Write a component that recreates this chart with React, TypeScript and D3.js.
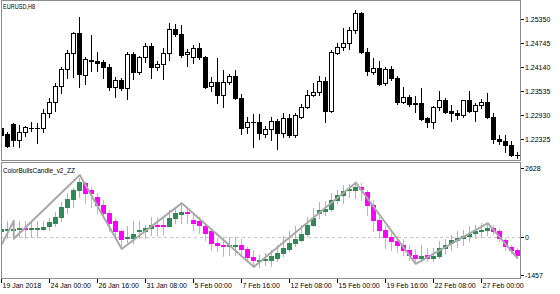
import React from "react";
import * as d3 from "d3";

const priceOpen = [1.22609,1.22458,1.22709,1.22307,1.22508,1.22609,1.22620,1.22609,1.22986,1.23263,1.23665,1.24093,1.24495,1.24998,1.23942,1.24319,1.24294,1.24269,1.24143,1.23640,1.23816,1.23615,1.24470,1.24017,1.24395,1.24671,1.24143,1.24219,1.24495,1.25099,1.24973,1.24470,1.24395,1.24621,1.24395,1.23665,1.23766,1.23439,1.23766,1.23917,1.23363,1.22634,1.22760,1.22760,1.22458,1.22584,1.22785,1.22483,1.22860,1.22433,1.22886,1.23137,1.23439,1.23514,1.23791,1.23036,1.24495,1.24646,1.24747,1.25073,1.25501,1.24520,1.24017,1.24118,1.23741,1.24093,1.23867,1.23263,1.23388,1.23238,1.23238,1.22860,1.22760,1.23137,1.23313,1.23036,1.22986,1.22936,1.23313,1.23036,1.23187,1.23263,1.22886,1.22332,1.22282,1.22181,1.21930];
const priceHigh = [1.22634,1.22508,1.22735,1.22684,1.22659,1.22760,1.22735,1.23087,1.23363,1.23741,1.24143,1.24571,1.25023,1.25400,1.24395,1.24948,1.24520,1.24319,1.24219,1.23892,1.23867,1.24520,1.24520,1.24420,1.24747,1.24747,1.24294,1.24621,1.25249,1.25224,1.25199,1.24596,1.24696,1.24747,1.24420,1.23892,1.24370,1.24068,1.23967,1.24068,1.23464,1.22886,1.22961,1.22961,1.22659,1.22886,1.22835,1.22986,1.22961,1.22986,1.23212,1.23565,1.23741,1.23917,1.23892,1.24571,1.24747,1.25124,1.25149,1.25576,1.25520,1.24621,1.24370,1.24294,1.24143,1.24168,1.23917,1.23640,1.23439,1.23414,1.23615,1.22886,1.23162,1.23539,1.23363,1.23187,1.23061,1.23313,1.23539,1.23238,1.23338,1.23489,1.22986,1.22433,1.22433,1.22282,1.22005];
const priceLow = [1.22408,1.22131,1.22156,1.22131,1.22408,1.22533,1.22231,1.22508,1.22886,1.23036,1.23489,1.23867,1.23892,1.23640,1.23716,1.24042,1.24042,1.23867,1.23565,1.23388,1.23565,1.23338,1.23841,1.23967,1.24269,1.23867,1.24068,1.23841,1.24319,1.24923,1.24395,1.24168,1.24244,1.24344,1.23615,1.23539,1.23238,1.23137,1.23716,1.23338,1.22458,1.22483,1.22131,1.22332,1.22382,1.22307,1.22081,1.22382,1.22382,1.22382,1.22860,1.23112,1.23414,1.23439,1.22760,1.23011,1.24470,1.24571,1.24596,1.24998,1.24495,1.23942,1.23967,1.23690,1.23690,1.23816,1.23212,1.23238,1.23162,1.23011,1.22810,1.22634,1.22609,1.23061,1.22986,1.22785,1.22835,1.22886,1.23011,1.22785,1.23112,1.22860,1.22231,1.22206,1.22005,1.21905,1.21854];
const priceClose = [1.22433,1.22156,1.22307,1.22508,1.22634,1.22620,1.22609,1.22986,1.23263,1.23665,1.24093,1.24495,1.24998,1.23967,1.24344,1.24294,1.24244,1.24143,1.23640,1.23816,1.23615,1.24470,1.24017,1.24395,1.24671,1.24143,1.24219,1.24495,1.25099,1.24973,1.24445,1.24520,1.24621,1.24395,1.23640,1.23766,1.23439,1.23766,1.23917,1.23363,1.22609,1.22760,1.22765,1.22483,1.22584,1.22785,1.22483,1.22860,1.22433,1.22936,1.23137,1.23439,1.23514,1.23791,1.23036,1.24520,1.24646,1.24747,1.25073,1.25501,1.24520,1.24042,1.24118,1.23716,1.24093,1.23867,1.23263,1.23388,1.23212,1.23212,1.22835,1.22760,1.23137,1.23313,1.23011,1.22986,1.22936,1.23313,1.23036,1.23187,1.23263,1.22886,1.22332,1.22282,1.22181,1.21930,1.21935];

const bullsOpen = [221,286,286,286,310,286,286,298,412,515,767,1149,1432,1787,2066,1787,1531,1214,897,577,195,-73,-57,195,195,325,439,439,412,706,870,935,641,577,386,195,-248,-325,-340,-340,-313,-479,-784,-912,-886,-886,-822,-630,-479,-248,-122,107,450,897,997,1048,1405,1596,1787,1787,1888,1724,1214,641,260,-19,-186,-313,-504,-720,-822,-700,-822,-760,-440,-248,-122,-57,4,134,195,260,325,230,-122,-402,-530];
const bullsHigh = [500,603,603,603,603,603,577,603,729,958,1340,1661,1852,2234,2104,1913,1661,1405,1023,706,260,386,577,577,451,767,767,706,1023,1149,1214,1149,897,767,515,325,-57,-19,0,0,-84,-402,-504,-700,-630,-504,-313,4,195,386,450,767,1086,1341,1380,1660,1787,1977,2000,2041,2041,1800,1405,767,386,134,4,-98,-313,-479,-313,-440,-440,-186,-98,69,195,260,386,450,500,515,450,290,-57,-313,-440];
const bullsLow = [0,-57,-57,-19,-57,-19,-19,260,260,386,577,897,1149,1531,1279,1149,897,706,195,4,-351,-225,-248,-57,-57,69,31,69,386,515,515,515,260,134,-122,-504,-569,-760,-700,-720,-760,-886,-1165,-1165,-1076,-1140,-949,-760,-569,-378,-186,4,386,706,833,960,1277,1277,1532,1468,1405,833,195,-60,-440,-504,-600,-700,-886,-1000,-949,-949,-949,-822,-630,-504,-400,-313,-186,-57,-19,69,100,-186,-504,-650,-822];
const bullsClose = [298,298,298,310,286,310,325,350,538,767,1149,1432,1787,2104,1684,1661,1214,897,515,195,-84,-19,107,260,325,451,386,386,706,897,935,897,515,450,134,-248,-325,-378,-325,-320,-479,-784,-912,-886,-860,-760,-630,-440,-248,-98,107,450,706,1023,1048,1405,1596,1761,1812,1888,1812,1214,641,260,-19,-186,-313,-504,-700,-835,-760,-835,-760,-440,-313,-122,-57,4,107,195,260,325,230,-57,-351,-530,-700];

const zzIndex = [0, 2, 2, 13, 20, 30, 42, 59, 69, 81, 86];
const zzValue = [-300, 603, -84, 2360, -477, 1279, -1164, 2066, -1050, 515, -850];

const timeLabels = ["19 Jan 2018","24 Jan 00:00","26 Jan 16:00","31 Jan 08:00","5 Feb 00:00","7 Feb 16:00","12 Feb 08:00","15 Feb 00:00","19 Feb 16:00","22 Feb 08:00","27 Feb 00:00"];
const priceTicks = [1.25350, 1.24745, 1.24140, 1.23535, 1.22930, 1.22325];
const bullsTicks = [2628, 0, -1457];

const FONT = "'Liberation Sans', Arial, sans-serif";
const GREEN = "#2e8b57";
const GREEN_W = "#8fc6a6";
const MAG = "#ff00ff";
const MAG_W = "#ff8cff";
const FRAME = "#8c8c8c";

export default function App() {
  const n = priceOpen.length;
  const x = d3.scaleLinear().domain([0, 86]).range([1.3, 517.3]);
  const yP = d3.scaleLinear().domain([1.22325, 1.2535]).range([139.3, 19]);
  const yB = d3.scaleLinear().domain([-1457, 2628]).range([274.5, 168]);
  const cx = (i: number) => Math.round(x(i));

  const topCandles = d3.range(n).map((i) => {
    const c = cx(i);
    const o = priceOpen[i], cl = priceClose[i];
    const top = Math.round(yP(Math.max(o, cl)));
    const bot = Math.round(yP(Math.min(o, cl)));
    const hi = Math.round(yP(priceHigh[i]));
    const lo = Math.round(yP(priceLow[i]));
    const bull = cl >= o;
    return (
      <g key={i}>
        <line x1={c + 0.5} x2={c + 0.5} y1={hi} y2={lo + 1} stroke="#000" strokeWidth={1} />
        {bot - top < 1 ? (
          <line x1={c - 2} x2={c + 3} y1={top + 0.5} y2={top + 0.5} stroke="#000" strokeWidth={1} />
        ) : bull ? (
          <rect x={c - 1.5} y={top + 0.5} width={4} height={bot - top} fill="#fff" stroke="#000" strokeWidth={1} />
        ) : (
          <rect x={c - 2} y={top} width={5} height={bot - top + 1} fill="#000" />
        )}
      </g>
    );
  });

  const botCandles = d3.range(n).map((i) => {
    const c = cx(i);
    const o = bullsOpen[i], cl = bullsClose[i];
    const top = Math.round(yB(Math.max(o, cl)));
    const bot = Math.round(yB(Math.min(o, cl)));
    const hi = Math.round(yB(bullsHigh[i]));
    const lo = Math.round(yB(bullsLow[i]));
    const up = cl >= o;
    return (
      <g key={i}>
        <line x1={c + 0.5} x2={c + 0.5} y1={hi} y2={lo + 1} stroke={up ? GREEN_W : MAG_W} strokeWidth={1} />
        <rect x={c - 2} y={top} width={5} height={Math.max(2, bot - top + 1)} fill={up ? GREEN : MAG} />
      </g>
    );
  });

  const zzLine = d3
    .line<number>()
    .x((d) => x(zzIndex[d]) + 0.5)
    .y((d) => yB(zzValue[d]))(d3.range(zzIndex.length));

  return (
    <svg width={560} height={294} style={{ position: "absolute", left: 0, top: 0, background: "#fff" }} fontFamily={FONT}>
      <defs>
        <clipPath id="cTop"><rect x={2} y={1} width={518} height={159} /></clipPath>
        <clipPath id="cBot"><rect x={2} y={163} width={518} height={115} /></clipPath>
      </defs>
      <rect x={0} y={0} width={560} height={294} fill="#fff" />
      {/* top panel */}
      <g clipPath="url(#cTop)">{topCandles}</g>
      <text x={3} y={9} fontSize={7} fill="#000" textLength={32} lengthAdjust="spacingAndGlyphs">EURUSD,H8</text>
      {priceTicks.map((p) => (
        <g key={p}>
          <line x1={520} x2={524} y1={Math.round(yP(p)) + 0.5} y2={Math.round(yP(p)) + 0.5} stroke="#000" />
          <text x={525} y={Math.round(yP(p)) + 3} fontSize={7} fill="#000">{p.toFixed(5)}</text>
        </g>
      ))}
      {/* bottom panel */}
      <line x1={2} x2={520} y1={Math.round(yB(0)) + 0.5} y2={Math.round(yB(0)) + 0.5} stroke="#c8c8c8" strokeDasharray="3,3" />
      <g clipPath="url(#cBot)">
        {botCandles}
        <path d={zzLine || ""} fill="none" stroke="#a9a9a9" strokeWidth={2} strokeLinejoin="round" />
      </g>
      <text x={3} y={173} fontSize={7} fill="#000" textLength={72} lengthAdjust="spacingAndGlyphs">ColorBullsCandle_v2_ZZ</text>
      {bullsTicks.map((v) => (
        <g key={v}>
          <line x1={520} x2={524} y1={Math.round(yB(v)) + 0.5} y2={Math.round(yB(v)) + 0.5} stroke="#000" />
          <text x={525} y={Math.round(yB(v)) + 3} fontSize={7} fill="#000">{String(v)}</text>
        </g>
      ))}
      {/* frames */}
      <rect x={1.5} y={0.5} width={519} height={160} fill="none" stroke={FRAME} />
      <rect x={1.5} y={162.5} width={519} height={116} fill="none" stroke={FRAME} />
      {/* time axis */}
      {timeLabels.map((t, k) => {
        const tx = cx(k * 8) + 0.5;
        return (
          <g key={t}>
            <line x1={tx} x2={tx} y1={279} y2={283} stroke="#000" />
            <text x={tx + 1} y={288} fontSize={7} fill="#000">{t}</text>
          </g>
        );
      })}
    </svg>
  );
}
